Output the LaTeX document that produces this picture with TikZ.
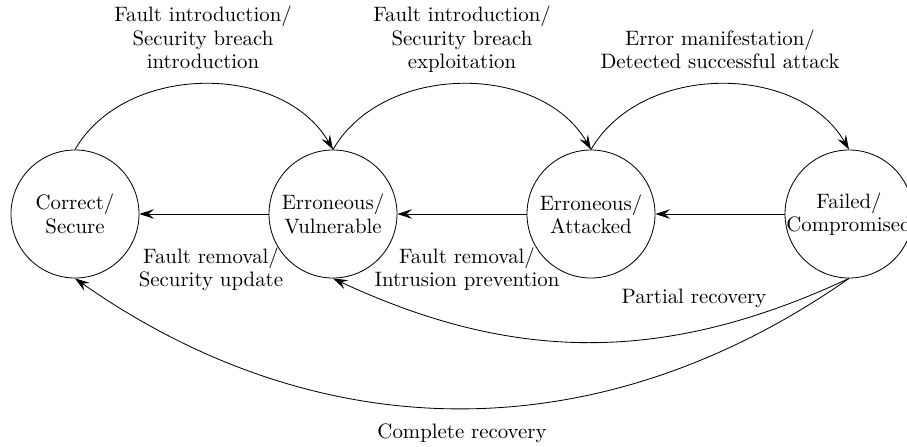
\documentclass[tikz,border=0pt]{standalone}
\usetikzlibrary{arrows.meta}
\begin{document}
\begin{tikzpicture}[x=0.48pt,y=0.48pt,
  statenode/.style={draw,circle,minimum size=61.44pt,inner sep=0pt},
  statetext/.style={align=center,font=\fontsize{10}{11.2}\selectfont},
  edgetext/.style={align=center,inner sep=0pt,font=\fontsize{10}{11.2}\selectfont},
  trans/.style={-{Stealth[length=7pt,width=4.6pt,inset=2.6pt]}},
]
\clip (0,0) rectangle (907,446);
\useasboundingbox (0,0) rectangle (907,446);

% states
\node[statenode,label={[statetext]center:Correct/\\Secure}] (cs) at (75,232) {};
\node[statenode,label={[statetext]center:Erroneous/\\Vulnerable}] (ev) at (333,232) {};
\node[statenode,label={[statetext]center:Erroneous/\\Attacked}] (ea) at (591,232) {};
\node[statenode,label={[statetext]center:Failed/\\Compromised}] (fc) at (849,232) {};

% forward transitions
\draw[trans] (cs.north) to[bend left=60] (ev.north);
\draw[trans] (ev.north) to[bend left=60] (ea.north);
\draw[trans] (ea.north) to[bend left=60] (fc.north);

% backward transitions
\draw[trans] (ev) -- (cs);
\draw[trans] (ea) -- (ev);
\draw[trans] (fc) -- (ea);

% recoveries
\draw[trans] (fc.south) to[bend left=25] (ev.south);
\draw[trans] (fc.south) to[bend left=35] (cs.south);

% transition labels
\node[edgetext,anchor=south,text depth=0pt] (l1) at (203,377) {Fault introduction/\\Security breach\\introduction};
\node[edgetext,anchor=south,text depth=0pt] (l2) at (462,377) {Fault introduction/\\Security breach\\exploitation};
\node[edgetext,anchor=south,text depth=0pt] (l3) at (720,377) {Error manifestation/\\Detected successful attack};
\node[edgetext,anchor=north] (l4) at (211,199) {Fault removal/\\Security update};
\node[edgetext,anchor=north] (l5) at (467,199) {Fault removal/\\Intrusion prevention};
\node[edgetext] (l6) at (694,148) {Partial recovery};
\node[edgetext] (l7) at (462,13) {Complete recovery};
\end{tikzpicture}
\end{document}
